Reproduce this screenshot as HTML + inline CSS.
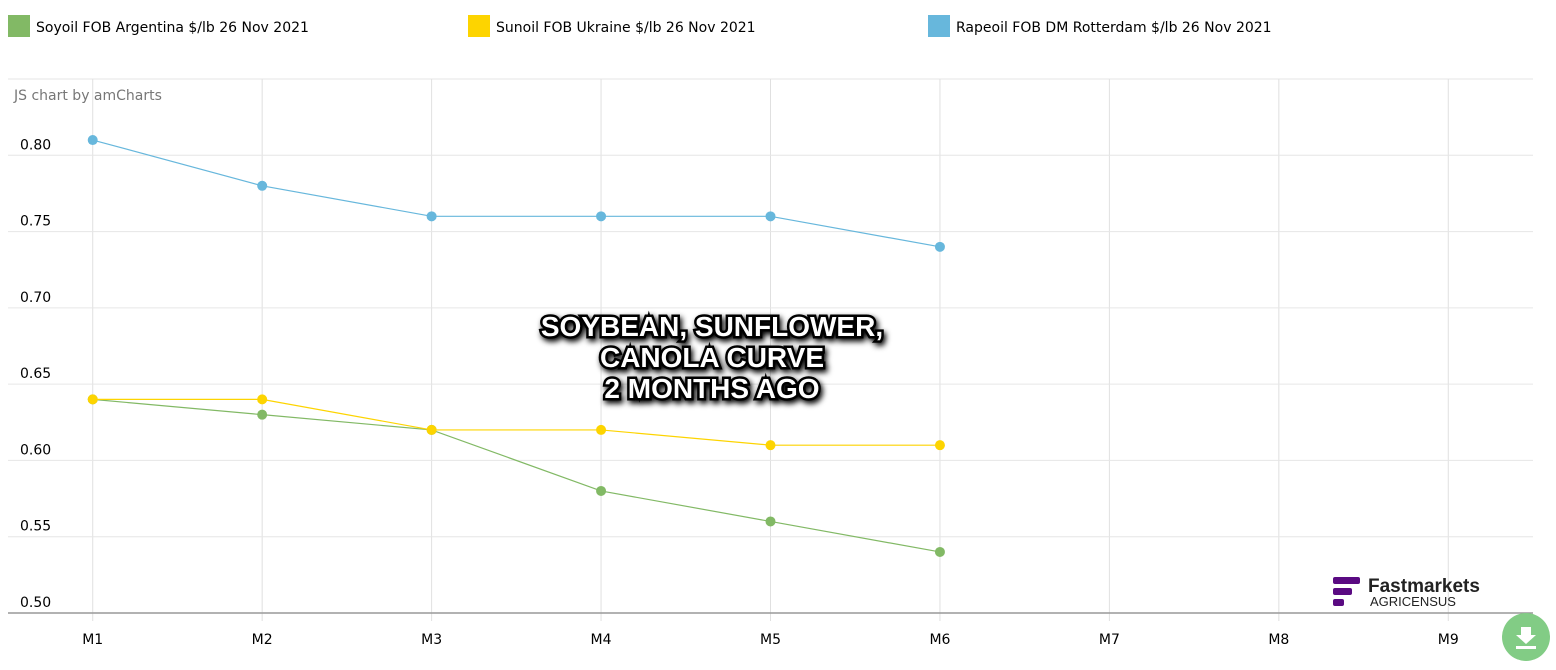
<!DOCTYPE html>
<html><head><meta charset="utf-8"><style>
body{margin:0;width:1556px;height:665px;background:#fff;overflow:hidden;font-family:"Liberation Sans",sans-serif}
svg text{font-family:"DejaVu Sans","Liberation Sans",sans-serif}
</style></head><body>
<svg id="c" width="1556" height="665">
<g>
<g><rect x="8" y="15" width="22" height="22" fill="#82b965"/><text x="36" y="32" font-size="14" fill="#000">Soyoil FOB Argentina $/lb 26 Nov 2021</text></g>
<g><rect x="468" y="15" width="22" height="22" fill="#fdd400"/><text x="496" y="32" font-size="14" fill="#000">Sunoil FOB Ukraine $/lb 26 Nov 2021</text></g>
<g><rect x="928" y="15" width="22" height="22" fill="#67b7dc"/><text x="956" y="32" font-size="14" fill="#000">Rapeoil FOB DM Rotterdam $/lb 26 Nov 2021</text></g>
</g>
<g id="grid"></g>
<text x="14" y="100" font-size="14" fill="#777">JS chart by amCharts</text>
<g id="series"></g>
<g font-size="28" font-weight="bold" fill="#fff" stroke="#000" stroke-width="5" paint-order="stroke" text-anchor="middle" style="filter:drop-shadow(2px 3px 3px #000)">
<text x="712" y="336" style="font-family:'Liberation Sans',sans-serif">SOYBEAN, SUNFLOWER,</text><text x="712" y="367" style="font-family:'Liberation Sans',sans-serif">CANOLA CURVE</text><text x="712" y="398" style="font-family:'Liberation Sans',sans-serif">2 MONTHS AGO</text></g>
<g>
<rect x="1333" y="577" width="27" height="7" rx="2" fill="#5a0a82"/><rect x="1333" y="588" width="19" height="7" rx="2" fill="#5a0a82"/><rect x="1333" y="599" width="11" height="7" rx="2" fill="#5a0a82"/>
<text x="1368" y="592" font-size="19" font-weight="bold" fill="#222" style="font-family:'Liberation Sans',sans-serif">Fastmarkets</text>
<text x="1370" y="606" font-size="13" fill="#222" style="font-family:'Liberation Sans',sans-serif">AGRICENSUS</text></g>
<g><circle cx="1526" cy="637" r="24" fill="#82cc85"/><path d="M1521 627h10v8h5l-10 9-10-9h5z M1516 646h20v3h-20z" fill="#fff"/></g>
</svg>
<script>
const categories=["M1","M2","M3","M4","M5","M6","M7","M8","M9"];
const yTicks=[0.50,0.55,0.60,0.65,0.70,0.75,0.80];
const soyoil=[0.64,0.63,0.62,0.58,0.56,0.54];
const sunoil=[0.64,0.64,0.62,0.62,0.61,0.61];
const rapeoil=[0.81,0.78,0.76,0.76,0.76,0.74];
const NS="http://www.w3.org/2000/svg";
const PL=8,PR=1533,PT=79,PB=613,yMin=0.5,yMax=0.85;
const bw=(PR-PL)/categories.length;
const xs=i=>PL+bw*(i+0.5);
const ys=v=>PB-(v-yMin)/(yMax-yMin)*(PB-PT);
function mk(t,a,p){const e=document.createElementNS(NS,t);for(const k in a)e.setAttribute(k,a[k]);p.appendChild(e);return e;}
const gg=document.getElementById('grid');
const topLine=mk('line',{x1:PL,x2:PR,y1:PT,y2:PT,stroke:'#e6e6e6'},gg);


categories.forEach((c,i)=>{
 const l=mk('line',{x1:xs(i),x2:xs(i),y1:PT,y2:PB+8,stroke:'#e0e0e0'},gg);
 
 
 const t=mk('text',{x:xs(i),y:644,'font-size':14,fill:'#000','text-anchor':'middle'},gg);t.textContent=c;
 
 
});
yTicks.forEach(v=>{
 const l=mk('line',{x1:PL,x2:PR,y1:ys(v),y2:ys(v),stroke:v===yMin?'#999':'#e6e6e6','stroke-width':v===yMin?1.5:1},gg);
 
 
 const t=mk('text',{x:20,y:ys(v)-6,'font-size':14,fill:'#000'},gg);t.textContent=v.toFixed(2);
 
 
});
const ss=document.getElementById('series');
[[soyoil,'#82b965','soyoil'],[sunoil,'#fdd400','sunoil'],[rapeoil,'#67b7dc','rapeoil']].forEach(([d,col,n])=>{
 const p=mk('polyline',{points:d.map((v,i)=>xs(i)+','+ys(v)).join(' '),fill:'none',stroke:col,'stroke-width':1.2},ss);
 
 
 d.forEach((v,i)=>{const c=mk('circle',{cx:xs(i),cy:ys(v),r:5,fill:col},ss);
 
 });
});
</script>
</body></html>
